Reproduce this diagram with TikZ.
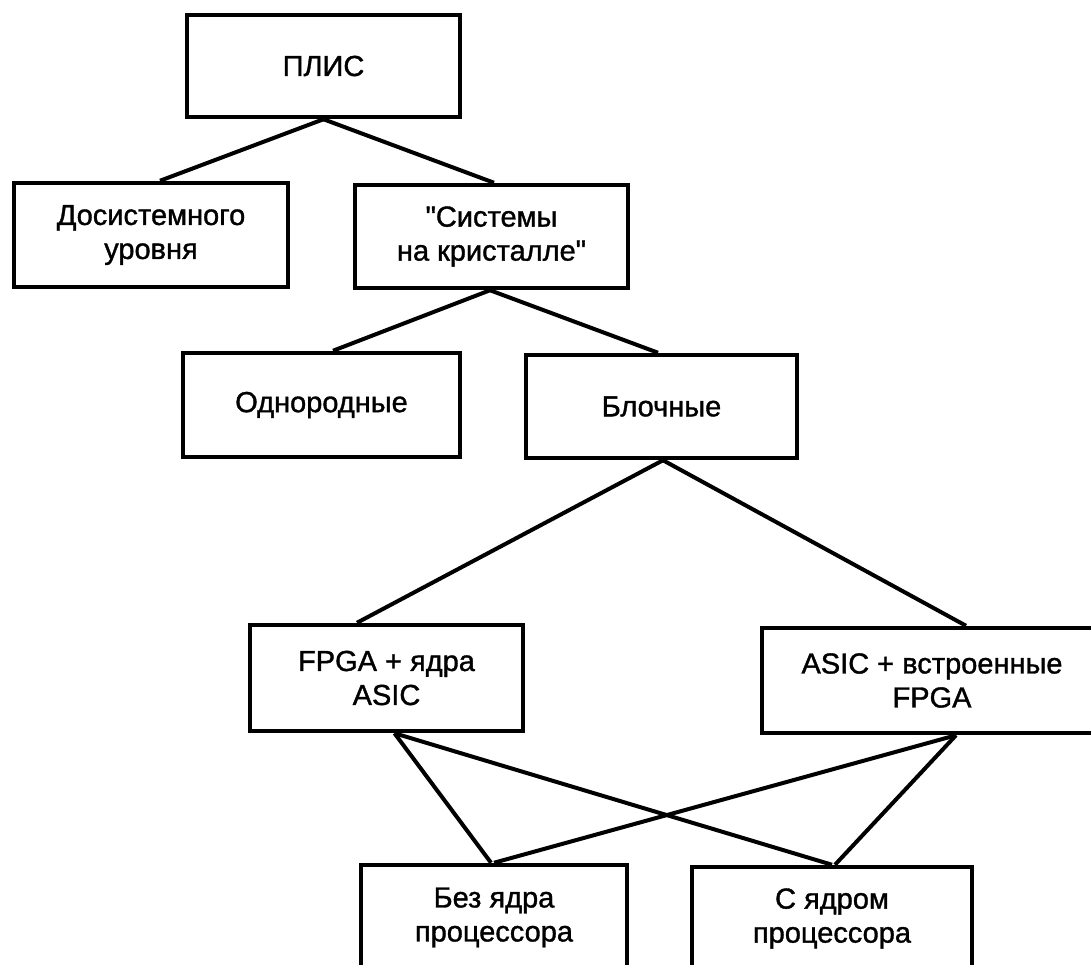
\documentclass[tikz,border=0pt]{standalone}
\usepackage{fontspec}
\newfontfamily\labelfont[FakeBold=1.2]{Liberation Sans}
\begin{document}
\begin{tikzpicture}[x=1pt,y=-1pt,
  box/.style={draw, line width=4.5pt, align=center, inner sep=0pt,
    font=\labelfont\fontsize{29}{34}\selectfont},
  link/.style={line width=4pt}]
\useasboundingbox (0,0) rectangle (1091,965);
\node[box, minimum width=273pt, minimum height=102pt] (plis) at (323.5,66) {ПЛИС};
\node[box, minimum width=274pt, minimum height=104pt] (dosist) at (151,235) {Досистемного\\уровня};
\node[box, minimum width=273pt, minimum height=103pt] (soc) at (491.5,236.5) {"Системы\\на кристалле"};
\node[box, minimum width=277pt, minimum height=104pt] (odn) at (321.5,405) {Однородные};
\node[box, minimum width=271pt, minimum height=103pt] (blk) at (661.5,406.5) {Блочные};
\node[box, minimum width=273pt, minimum height=106pt] (fpga) at (386.5,678) {FPGA + ядра\\ASIC};
\node[box, minimum width=340pt, minimum height=105pt] (asic) at (932,680.5) {ASIC + встроенные\\FPGA};
\node[box, minimum width=266pt, minimum height=105pt] (bez) at (494,917.5) {Без ядра\\процессора};
\node[box, minimum width=280pt, minimum height=103pt] (sya) at (832,918.5) {С ядром\\процессора};
\draw[link] (plis.south) -- ([xshift=9pt]dosist.north);
\draw[link] (plis.south) -- ([xshift=2.5pt]soc.north);
\draw[link] ([xshift=-1.5pt]soc.south) -- ([xshift=11.5pt]odn.north);
\draw[link] ([xshift=-1.5pt]soc.south) -- ([xshift=-3.5pt]blk.north);
\draw[link] ([xshift=1.5pt]blk.south) -- ([xshift=-29.5pt]fpga.north);
\draw[link] ([xshift=1.5pt]blk.south) -- ([xshift=34pt]asic.north);
\draw[link] ([xshift=8pt]fpga.south) -- ([xshift=-3pt]bez.north);
\draw[link] ([xshift=8pt]fpga.south) -- (sya.north);
\draw[link] ([xshift=24pt]asic.south) -- (bez.north);
\draw[link] ([xshift=24pt]asic.south) -- ([xshift=3pt]sya.north);
\end{tikzpicture}
\end{document}
